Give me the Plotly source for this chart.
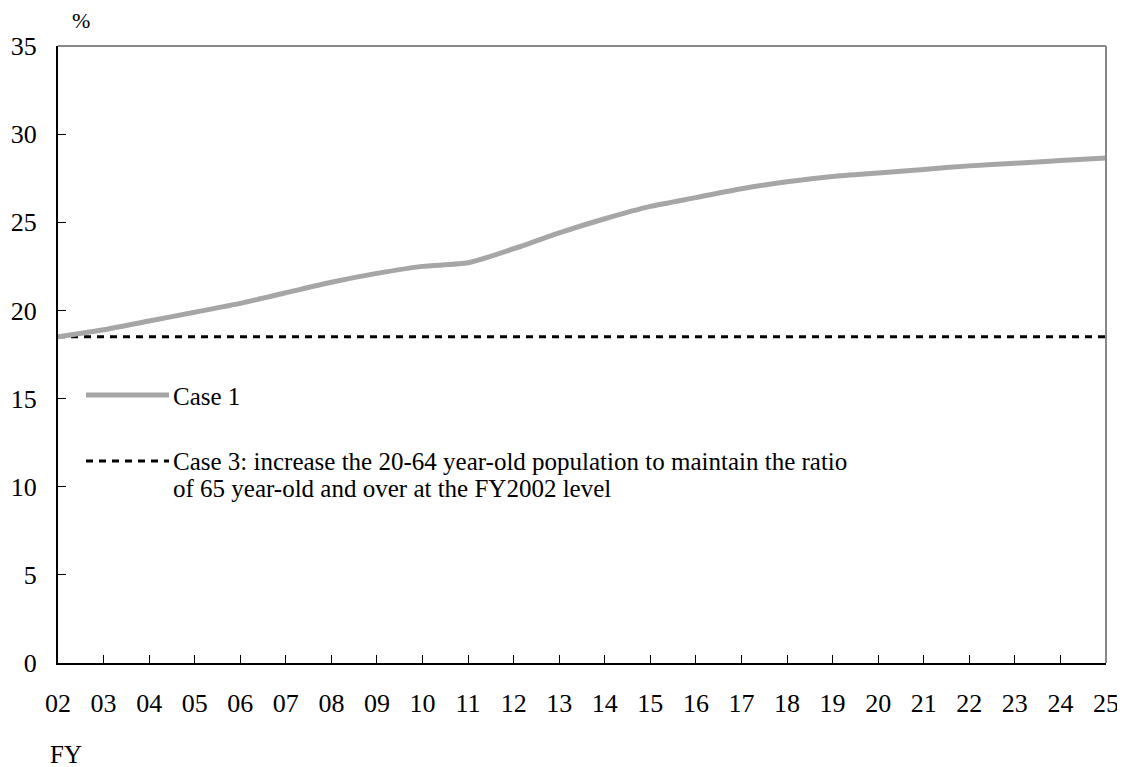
import plotly.graph_objects as go

years = ["02","03","04","05","06","07","08","09","10","11","12","13",
         "14","15","16","17","18","19","20","21","22","23","24","25"]
case1 = [18.5, 18.9, 19.4, 19.9, 20.4, 21.0, 21.6, 22.1, 22.5, 22.7, 23.5, 24.4,
         25.2, 25.9, 26.4, 26.9, 27.3, 27.6, 27.8, 28.0, 28.2, 28.35, 28.5, 28.65]
case3 = [18.5] * len(years)
y_ticks = [0, 5, 10, 15, 20, 25, 30, 35]

legend_case1 = "Case 1"
legend_case3_l1 = "Case 3: increase the 20-64 year-old population to maintain the ratio"
legend_case3_l2 = "of 65 year-old and over at the FY2002 level"

FONT = "Liberation Serif"
idx = list(range(len(years)))

# plot area in page pixels: x 58..1106, y 46..663 (page has 8px body margin)
PW = 1048.0
PH = 617.0
def px(x):
    return (x - 58) / PW
def py(y):
    return (663 - y) / PH

fig = go.Figure()
fig.add_trace(go.Scatter(x=idx, y=case3, mode="lines",
                         line=dict(color="black", width=3, dash="7px,6px"),
                         showlegend=False, hoverinfo="skip"))
fig.add_trace(go.Scatter(x=idx, y=case1, mode="lines", line_shape="spline",
                         line=dict(color="#a6a6a6", width=5, smoothing=0.6),
                         showlegend=False))

# frame: top & right gray
fig.add_shape(type="line", xref="paper", yref="paper", x0=0, x1=1, y0=1, y1=1,
              line=dict(color="#888888", width=2), layer="above")
fig.add_shape(type="line", xref="paper", yref="paper", x0=1, x1=1, y0=0, y1=1,
              line=dict(color="#888888", width=2), layer="above")

# legend samples
fig.add_shape(type="line", xref="paper", yref="paper", x0=px(86), x1=px(169),
              y0=py(395), y1=py(395),
              line=dict(color="#a6a6a6", width=5))
fig.add_shape(type="line", xref="paper", yref="paper", x0=px(86), x1=px(169),
              y0=py(461), y1=py(461),
              line=dict(color="black", width=3, dash="7px,6px"))
fig.add_annotation(xref="paper", yref="paper", x=px(171), y=py(396),
                   text=legend_case1, showarrow=False, xanchor="left", yanchor="middle",
                   align="left", font=dict(family=FONT, size=25, color="black"))
fig.add_annotation(xref="paper", yref="paper", x=px(171), y=py(461),
                   text=legend_case3_l1, showarrow=False, xanchor="left", yanchor="middle",
                   align="left", font=dict(family=FONT, size=25, color="black"))
fig.add_annotation(xref="paper", yref="paper", x=px(171), y=py(488),
                   text=legend_case3_l2, showarrow=False, xanchor="left", yanchor="middle",
                   align="left", font=dict(family=FONT, size=25, color="black"))
# axis unit labels
fig.add_annotation(xref="paper", yref="paper", x=px(81), y=py(21),
                   text="%", showarrow=False, xanchor="center", yanchor="middle",
                   font=dict(family=FONT, size=22, color="black"))
fig.add_annotation(xref="paper", yref="paper", x=px(66), y=py(754),
                   text="FY", showarrow=False, xanchor="center", yanchor="middle",
                   font=dict(family=FONT, size=25, color="black"))

fig.update_layout(
    width=1117, height=759,
    margin=dict(l=50, r=19, t=38, b=104),
    paper_bgcolor="white", plot_bgcolor="white",
    font=dict(family=FONT, size=26, color="black"),
    showlegend=False,
)
fig.update_xaxes(range=[0, len(years) - 1], tickvals=idx, ticktext=years,
                 ticks="inside", ticklen=8, tickcolor="black", tickwidth=1,
                 showline=True, linecolor="black", linewidth=2,
                 showgrid=False, zeroline=False, ticklabelstandoff=16,
                 automargin=False, ticklabeloverflow="allow",
                 tickfont=dict(family=FONT, size=26))
fig.update_yaxes(range=[0, 35], tickvals=y_ticks,
                 ticks="inside", ticklen=8, tickcolor="black", tickwidth=1,
                 showline=True, linecolor="black", linewidth=2,
                 showgrid=False, zeroline=False, ticklabelstandoff=14,
                 automargin=False, ticklabeloverflow="allow",
                 tickfont=dict(family=FONT, size=26))

fig.write_html("out.html")
